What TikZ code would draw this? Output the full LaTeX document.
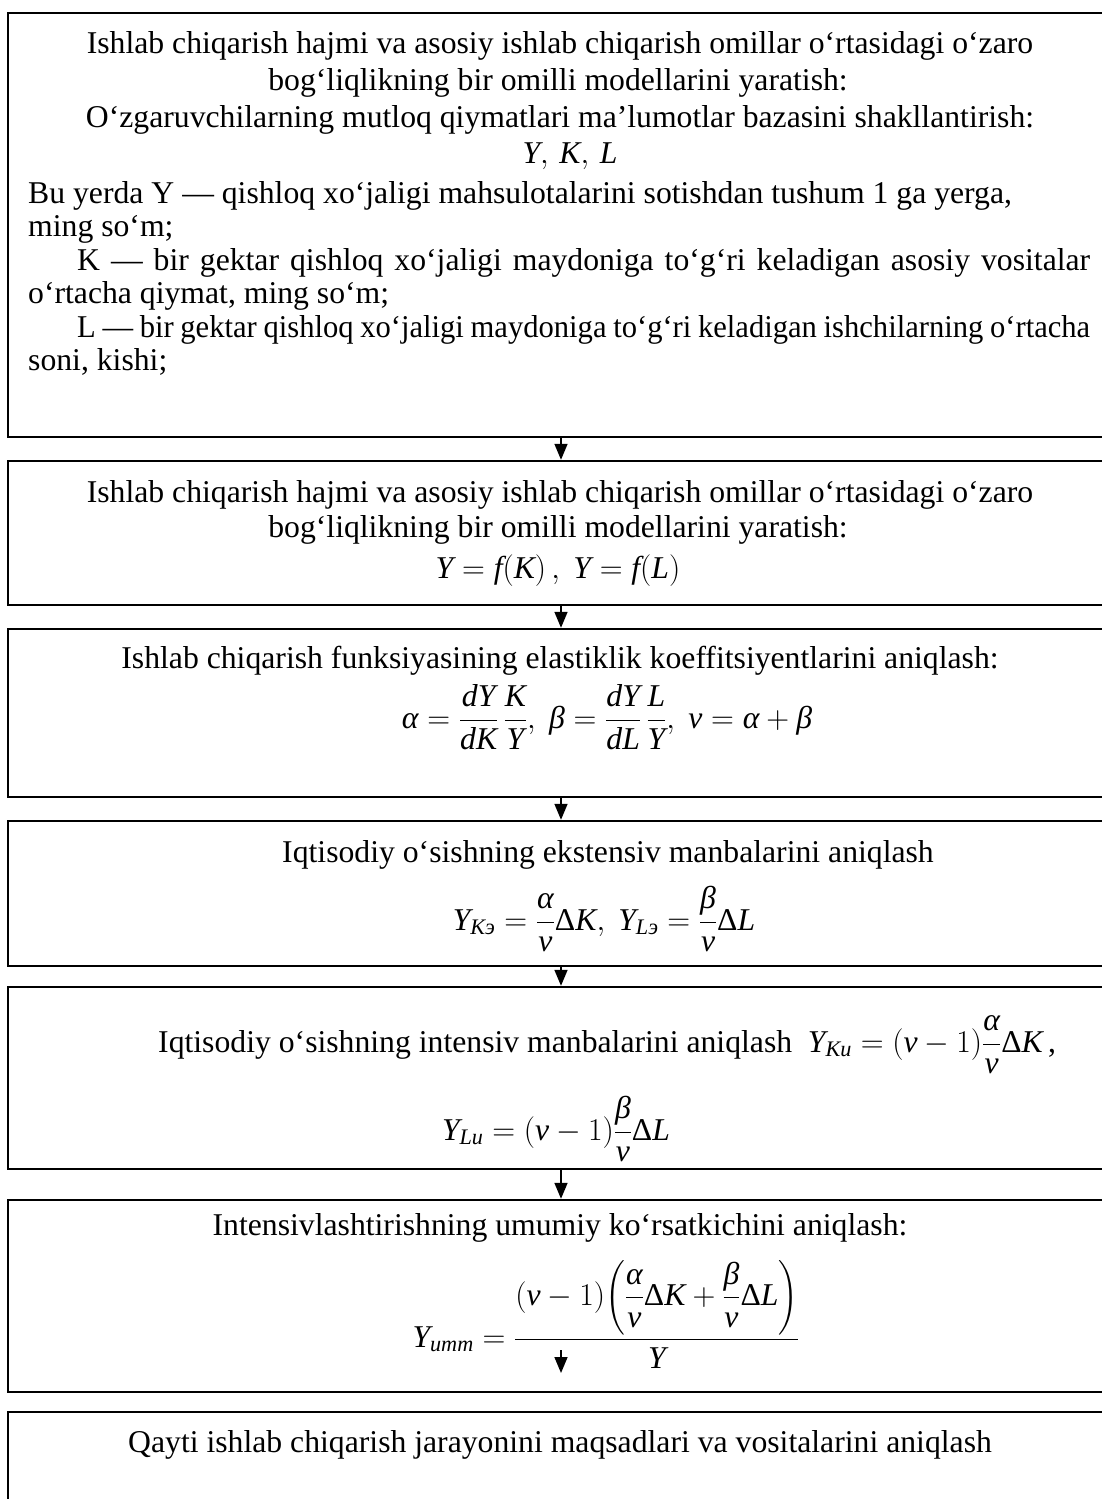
\RequirePackage{fix-cm}
\documentclass[tikz,border=0pt]{standalone}
\usepackage{amsmath}
\usepackage{fontspec}
\setmainfont{Liberation Serif}
\usetikzlibrary{arrows.meta}
\newcommand\mvar[1]{\textit{#1}}
\newcommand\myal{\textit{α}}
\newcommand\mybe{\textit{β}}
\newcommand\mynu{\textit{ν}}
\newcommand\myDe{\textup{Δ}}
\tikzset{
  box/.style={draw, line width=2.4pt, minimum width=1106pt, inner sep=0pt},
  arr/.style={line width=1.6pt, -{Triangle[length=16pt,width=13pt]}},
  txt/.style={inner sep=0pt, font=\fontsize{31.7}{37}\selectfont},
  cline/.style={txt, anchor=base},
  lline/.style={txt, anchor=base west},
}
\begin{document}
\begin{tikzpicture}[x=1pt,y=-1pt]
\fill[white] (0,0) rectangle (1101,1499);
\useasboundingbox (0,0) rectangle (1101,1499);
% boxes
\node[box, minimum height=424pt] (b1) at (561,225) {};
\node[box, minimum height=144pt] (b2) at (561,533) {};
\node[box, minimum height=168pt] (b3) at (561,713) {};
\node[box, minimum height=145pt] (b4) at (561,893.5) {};
\node[box, minimum height=182pt] (b5) at (561,1078) {};
\node[box, minimum height=192pt] (b6) at (561,1296) {};
\node[box, minimum height=148pt] (b7) at (561,1486) {};
% box 1
\node[cline] (t1a) at (560,53) {Ishlab chiqarish hajmi va asosiy ishlab chiqarish omillar o‘rtasidagi o‘zaro};
\node[cline] (t1b) at (558,90) {bog‘liqlikning bir omilli modellarini yaratish:};
\node[cline] (t1c) at (560,127) {O‘zgaruvchilarning mutloq qiymatlari ma’lumotlar bazasini shakllantirish:};
\node[cline] (t1d) at (570,163) {$\mvar{Y},\,\mvar{K},\,\mvar{L}$};
\node[lline] (t1e) at (28,203) {Bu yerda Y — qishloq xo‘jaligi mahsulotalarini sotishdan tushum 1 ga yerga,};
\node[lline] (t1f) at (28,236) {ming so‘m;};
\node[lline] (t1g) at (77,270) {\makebox[1013pt][s]{K — bir gektar qishloq xo‘jaligi maydoniga to‘g‘ri keladigan asosiy vositalar}};
\node[lline] (t1h) at (28,303) {o‘rtacha qiymat, ming so‘m;};
\node[lline] (t1i) at (77,337) {\makebox[1013pt][s]{\addfontfeatures{FakeStretch=0.965}L — bir gektar qishloq xo‘jaligi maydoniga to‘g‘ri keladigan ishchilarning o‘rtacha}};
\node[lline] (t1j) at (28,370) {soni, kishi;};
% box 2
\node[cline] (t2a) at (560,502) {Ishlab chiqarish hajmi va asosiy ishlab chiqarish omillar o‘rtasidagi o‘zaro};
\node[cline] (t2b) at (558,537) {bog‘liqlikning bir omilli modellarini yaratish:};
\node[cline] (t2c) at (558,578) {$\mvar{Y} = \mvar{f}(\mvar{K})\,,\ \mvar{Y} = \mvar{f}(\mvar{L})$};
% box 3
\node[cline] (t3a) at (560,668) {Ishlab chiqarish funksiyasining elastiklik koeffitsiyentlarini aniqlash:};
\node[cline] (t3b) at (607,728) {$\myal = \dfrac{\mvar{dY}}{\mvar{dK}}\,\dfrac{\mvar{K}}{\mvar{Y}},\ \mybe = \dfrac{\mvar{dY}}{\mvar{dL}}\,\dfrac{\mvar{L}}{\mvar{Y}},\ \mynu = \myal + \mybe$};
% box 4
\node[cline] (t4a) at (608,862) {Iqtisodiy o‘sishning ekstensiv manbalarini aniqlash};
\node[cline] (t4b) at (604,930) {$\mvar{Y}_{\mvar{Kэ}} = \dfrac{\myal}{\mynu}\myDe\mvar{K},\ \mvar{Y}_{\mvar{Lэ}} = \dfrac{\mybe}{\mynu}\myDe\mvar{L}$};
% box 5
\node[lline] (t5a) at (158,1052) {Iqtisodiy o‘sishning intensiv manbalarini aniqlash\ \ $\mvar{Y}_{\mvar{Ku}} = (\mynu-1)\dfrac{\myal}{\mynu}\myDe\mvar{K}$\,,};
\node[cline] (t5b) at (556,1140) {$\mvar{Y}_{\mvar{Lu}} = (\mynu-1)\dfrac{\mybe}{\mynu}\myDe\mvar{L}$};
% box 6
\node[cline] (t6a) at (560,1235) {Intensivlashtirishning umumiy ko‘rsatkichini aniqlash:};
\node[cline] (t6b) at (606,1347) {$\mvar{Y}_{\mvar{umm}} = \dfrac{(\mynu-1)\biggl(\dfrac{\myal}{\mynu}\myDe\mvar{K}+\dfrac{\mybe}{\mynu}\myDe\mvar{L}\biggr)}{\mvar{Y}}$};
% box 7
\node[cline] (t7a) at (560,1452) {Qayti ishlab chiqarish jarayonini maqsadlari va vositalarini aniqlash};
% arrows
\draw[arr] (b1.south) -- (b2.north);
\draw[arr] (b2.south) -- (b3.north);
\draw[arr] (b3.south) -- (b4.north);
\draw[arr] (b4.south) -- (b5.north);
\draw[arr] (b5.south) -- (b6.north);
\coordinate (a6s) at (561,1350);
\coordinate (a6e) at (561,1373);
\draw[arr] (a6s) -- (a6e);
\end{tikzpicture}
\end{document}
